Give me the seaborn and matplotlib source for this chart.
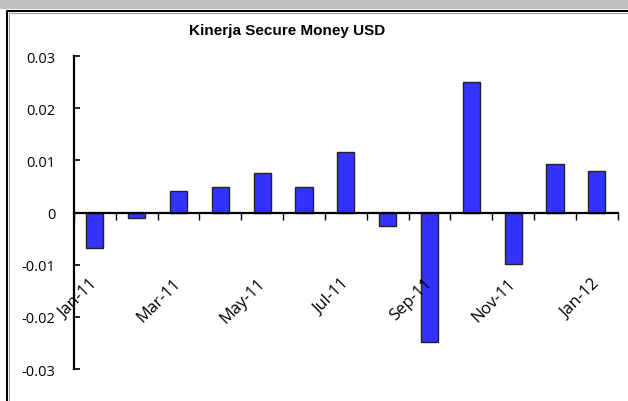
import matplotlib
matplotlib.use("Agg")
import matplotlib.pyplot as plt
import matplotlib.transforms as mtransforms
from matplotlib.lines import Line2D
from matplotlib.patches import Rectangle
import seaborn as sns
import pandas as pd

months = ["Jan-11", "Feb-11", "Mar-11", "Apr-11", "May-11", "Jun-11", "Jul-11",
          "Aug-11", "Sep-11", "Oct-11", "Nov-11", "Dec-11", "Jan-12"]
returns = [-0.0068, -0.0011, 0.0041, 0.0048, 0.0076, 0.0048, 0.0116,
           -0.0026, -0.0248, 0.0250, -0.0099, 0.0093, 0.0079]
y_ticks = [-0.03, -0.02, -0.01, 0.0, 0.01, 0.02, 0.03]
y_tick_labels = ["-0.03", "-0.02", "-0.01", "0", "0.01", "0.02", "0.03"]
title = "Kinerja Secure Money USD"

df = pd.DataFrame({"month": months, "ret": returns})

sns.set_theme(style="white")
plt.rcParams["font.family"] = ["Open Sans", "DejaVu Sans"]

W, H = 628, 402
fig = plt.figure(figsize=(W / 100, H / 100), dpi=100)
fig.patch.set_facecolor("white")

ax = fig.add_axes([74 / W, 1 - 370 / H, (617.7 - 74) / W, (370 - 57) / H])
ax.set_facecolor("white")

sns.barplot(data=df, x="month", y="ret", order=months, color="#3333FF",
            saturation=1, width=0.41, edgecolor="#222222", linewidth=1.0, ax=ax)

ax.set_axisbelow(False)
ax.set_xlim(-0.5, len(months) - 0.5)
ax.set_ylim(-0.03, 0.03)
ax.set_xlabel("")
ax.set_ylabel("")

# spines
for s in ["top", "right"]:
    ax.spines[s].set_visible(False)
ax.spines["bottom"].set_position(("data", 0))
ax.spines["left"].set_color("black")
ax.spines["bottom"].set_color("black")
ax.spines["left"].set_linewidth(1.6)
ax.spines["bottom"].set_linewidth(1.6)

# y axis
ax.set_yticks(y_ticks)
ax.set_yticklabels(y_tick_labels)
ax.tick_params(axis="y", direction="in", length=4, width=1.2, color="black",
               left=True, pad=13.5, labelsize=10.5, labelcolor="black")

# x axis: labels every other month, tick marks at category boundaries
label_pos = list(range(0, len(months), 2))
ax.set_xticks(label_pos)
ax.set_xticklabels([months[i] for i in label_pos])
ax.set_xticks([i - 0.5 for i in range(len(months) + 1)], minor=True)
ax.tick_params(axis="x", which="major", length=0, pad=45, labelsize=12,
               labelcolor="black", bottom=True)
ax.tick_params(axis="x", which="minor", direction="out", length=5, width=1.0,
               color="black", bottom=True)
offset = mtransforms.ScaledTranslation(6 / 100, 0, fig.dpi_scale_trans)
for lab in ax.get_xticklabels():
    lab.set_rotation(45)
    lab.set_ha("right")
    lab.set_va("top")
    lab.set_transform(lab.get_transform() + offset)
    lab.set_zorder(5)

# title
fig.text(287 / W, 1 - 31 / H, title, ha="center", va="center", color="black",
         fontsize=11, fontweight="bold", family=["Liberation Sans", "DejaVu Sans"])

# outer frame decorations
fig.patches.append(Rectangle((0, 1 - 10 / H), 1, 10 / H, transform=fig.transFigure,
                             facecolor="#c0c0c0", edgecolor="none", zorder=0))
fig.lines.append(Line2D([7 / W, 7 / W, 1], [0, 1 - 12 / H, 1 - 12 / H],
                        transform=fig.transFigure, color="black", linewidth=1.5))
fig.lines.append(Line2D([9 / W, 9 / W, 1], [0, 1 - 14 / H, 1 - 14 / H],
                        transform=fig.transFigure, color="#9a9a9a", linewidth=0.7))

fig.savefig("out.png", dpi=100)
